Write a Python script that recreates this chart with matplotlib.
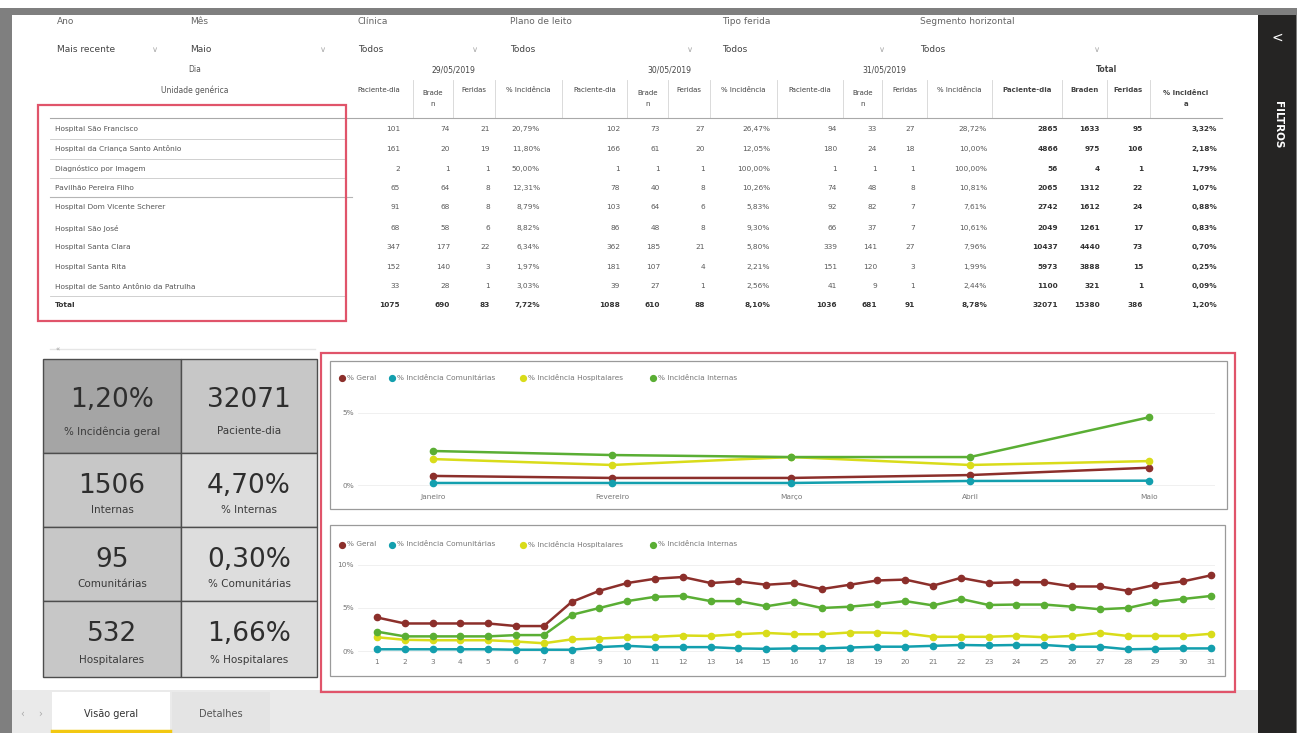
import numpy as np
import matplotlib
matplotlib.use("Agg")
import matplotlib.pyplot as plt
from matplotlib.patches import Rectangle

W, H = 1301, 733

# ---- dados ----
filter_labels = ["Ano", "Mês", "Clínica", "Plano de leito", "Tipo ferida", "Segmento horizontal"]
filter_values = ["Mais recente", "Maio", "Todos", "Todos", "Todos", "Todos"]

unidades = ["Hospital São Francisco", "Hospital da Criança Santo Antônio",
            "Diagnóstico por Imagem", "Pavilhão Pereira Filho",
            "Hospital Dom Vicente Scherer", "Hospital São José",
            "Hospital Santa Clara", "Hospital Santa Rita",
            "Hospital de Santo Antônio da Patrulha", "Total"]
datas = ["29/05/2019", "30/05/2019", "31/05/2019", "Total"]
colunas = ["Paciente-dia", "Brade\nn", "Feridas", "% Incidência"]
colunas_total = ["Paciente-dia", "Braden", "Feridas", "% Incidênci\na"]

dia1 = [["101", "74", "21", "20,79%"], ["161", "20", "19", "11,80%"],
        ["2", "1", "1", "50,00%"], ["65", "64", "8", "12,31%"],
        ["91", "68", "8", "8,79%"], ["68", "58", "6", "8,82%"],
        ["347", "177", "22", "6,34%"], ["152", "140", "3", "1,97%"],
        ["33", "28", "1", "3,03%"], ["1075", "690", "83", "7,72%"]]
dia2 = [["102", "73", "27", "26,47%"], ["166", "61", "20", "12,05%"],
        ["1", "1", "1", "100,00%"], ["78", "40", "8", "10,26%"],
        ["103", "64", "6", "5,83%"], ["86", "48", "8", "9,30%"],
        ["362", "185", "21", "5,80%"], ["181", "107", "4", "2,21%"],
        ["39", "27", "1", "2,56%"], ["1088", "610", "88", "8,10%"]]
dia3 = [["94", "33", "27", "28,72%"], ["180", "24", "18", "10,00%"],
        ["1", "1", "1", "100,00%"], ["74", "48", "8", "10,81%"],
        ["92", "82", "7", "7,61%"], ["66", "37", "7", "10,61%"],
        ["339", "141", "27", "7,96%"], ["151", "120", "3", "1,99%"],
        ["41", "9", "1", "2,44%"], ["1036", "681", "91", "8,78%"]]
total = [["2865", "1633", "95", "3,32%"], ["4866", "975", "106", "2,18%"],
         ["56", "4", "1", "1,79%"], ["2065", "1312", "22", "1,07%"],
         ["2742", "1612", "24", "0,88%"], ["2049", "1261", "17", "0,83%"],
         ["10437", "4440", "73", "0,70%"], ["5973", "3888", "15", "0,25%"],
         ["1100", "321", "1", "0,09%"], ["32071", "15380", "386", "1,20%"]]

kpi_valores = ["1,20%", "32071", "1506", "4,70%", "95", "0,30%", "532", "1,66%"]
kpi_rotulos = ["% Incidência geral", "Paciente-dia", "Internas", "% Internas",
               "Comunitárias", "% Comunitárias", "Hospitalares", "% Hospitalares"]

series = ["% Geral", "% Incidência Comunitárias", "% Incidência Hospitalares", "% Incidência Internas"]
cores = ["#8c2f2b", "#139fae", "#d9dc1a", "#5aae34"]

meses = ["Janeiro", "Fevereiro", "Março", "Abril", "Maio"]
mes_geral = [0.63, 0.49, 0.49, 0.69, 1.20]
mes_comunit = [0.14, 0.14, 0.14, 0.28, 0.30]
mes_hosp = [1.80, 1.39, 1.94, 1.39, 1.66]
mes_intern = [2.36, 2.08, 1.94, 1.94, 4.70]

dias = list(range(1, 32))
dia_geral = [3.9, 3.2, 3.2, 3.2, 3.2, 2.9, 2.9, 5.7, 7.0, 7.9, 8.4, 8.6, 7.9, 8.1, 7.7, 7.9,
             7.2, 7.7, 8.2, 8.3, 7.6, 8.5, 7.9, 8.0, 8.0, 7.5, 7.5, 7.0, 7.7, 8.1, 8.8]
dia_comunit = [0.2, 0.2, 0.2, 0.2, 0.2, 0.15, 0.15, 0.15, 0.45, 0.6, 0.45, 0.45, 0.45, 0.3, 0.25, 0.3,
               0.3, 0.4, 0.5, 0.5, 0.6, 0.7, 0.65, 0.7, 0.7, 0.5, 0.5, 0.2, 0.25, 0.3, 0.3]
dia_hosp = [1.6, 1.3, 1.25, 1.25, 1.25, 1.1, 0.9, 1.35, 1.45, 1.6, 1.65, 1.8, 1.75, 1.95, 2.1, 1.95,
            1.95, 2.15, 2.15, 2.05, 1.65, 1.65, 1.65, 1.75, 1.6, 1.75, 2.1, 1.75, 1.75, 1.75, 2.0]
dia_intern = [2.25, 1.7, 1.7, 1.7, 1.7, 1.85, 1.85, 4.2, 5.0, 5.8, 6.3, 6.4, 5.8, 5.8, 5.2, 5.7,
              5.0, 5.15, 5.45, 5.8, 5.3, 6.05, 5.35, 5.4, 5.4, 5.15, 4.85, 5.0, 5.7, 6.05, 6.4]

# ---- figura / fundo em pixels ----
fig = plt.figure(figsize=(W / 100, H / 100), dpi=100)
bg = fig.add_axes([0, 0, 1, 1])
bg.set_xlim(0, W)
bg.set_ylim(H, 0)
bg.axis("off")


def rect(x0, y0, x1, y1, fc="none", ec="none", lw=1, z=1):
    bg.add_patch(Rectangle((x0, y0), x1 - x0, y1 - y0, facecolor=fc, edgecolor=ec, lw=lw, zorder=z))


def txt(x, y, s, size=5.5, color="#555555", ha="left", va="center", weight="normal", **kw):
    bg.text(x, y, s, fontsize=size, color=color, ha=ha, va=va, weight=weight, zorder=3, **kw)


rect(0, 0, W, H, fc="white", z=0)
rect(0, 8, 1297, H, fc="#7f7f7f", z=0)
rect(12, 15, 1258, 690, fc="white", z=0)
rect(12, 690, 1258, H, fc="#eaeaea", z=0)
rect(1258, 15, 1296, H, fc="#252423", z=0)
txt(1277, 38, "<", size=10, color="white", ha="center")
txt(1278, 125, "FILTROS", size=7.5, color="white", ha="center", weight="bold", rotation=-90)

# filtros (segmentações)
fx = [57, 190, 358, 510, 722, 920]
chev = [155, 323, 475, 690, 882, 1097]
for i in range(len(filter_labels)):
    txt(fx[i], 22, filter_labels[i], size=6.5, color="#666666")
    txt(fx[i], 50, filter_values[i], size=6.5, color="#444444")
    txt(chev[i], 50, "\u2228", size=6, color="#aaaaaa", ha="center")

# tabela (matriz)
bounds = [345, 413, 453, 495, 562, 627, 668, 710, 777, 843, 882, 927, 992, 1062, 1107, 1150, 1222]
val_right = [400, 450, 490, 540, 620, 660, 705, 770, 837, 877, 915, 987, 1058, 1100, 1143, 1217]
row_y = [129, 149, 169, 188, 207, 228, 247, 267, 286, 305]

txt(195, 69, "Dia", ha="center")
txt(195, 90, "Unidade genérica", ha="center")
for g, d in enumerate(datas):
    txt((bounds[4 * g] + bounds[4 * g + 4]) / 2, 70, d, ha="center",
        weight="bold" if g == 3 else "normal", color="#444444")
    nomes = colunas_total if g == 3 else colunas
    for c in range(4):
        k = 4 * g + c
        cx = (bounds[k] + bounds[k + 1]) / 2
        txt(cx, 90, nomes[c], size=5, ha="center", va="top" if "\n" in nomes[c] else "center",
            weight="bold" if g == 3 else "normal", color="#444444", linespacing=1.9)
for b in bounds[1:-1]:
    bg.plot([b, b], [80, 118], color="#d4d4d4", lw=0.6)
bg.plot([50, 1222], [118, 118], color="#a9a9a9", lw=0.8)
for y in [139, 159, 178, 296]:
    bg.plot([50, 345], [y, y], color="#c9c9c9", lw=0.6)
bg.plot([50, 352], [197, 197], color="#b5b5b5", lw=0.8)

grupos = [dia1, dia2, dia3, total]
for r, nome in enumerate(unidades):
    tot = r == len(unidades) - 1
    txt(55, row_y[r], nome, size=5.3, color="#333333" if tot else "#555555",
        weight="bold" if tot else "normal")
    for g, dados in enumerate(grupos):
        for c in range(4):
            k = 4 * g + c
            forte = g == 3 or tot
            txt(val_right[k], row_y[r], dados[r][c], size=5.3, ha="right",
                color="#333333" if forte else "#5a5a5a",
                weight="bold" if forte else "normal")

rect(38, 105, 346, 321, ec="#e0546a", lw=1.6, z=5)

# cartões
kx = [43, 181, 317]
ky = [359, 453, 527, 601, 677]
bg.plot([50, 315], [349, 349], color="#e6e6e6", lw=1)
txt(55, 349, "«", size=5, color="#999999")
for r in range(4):
    for c in range(2):
        if r == 0 and c == 0:
            fc = "#a5a5a5"
        elif c == 0 or r == 0:
            fc = "#c7c7c7"
        else:
            fc = "#dddddd"
        rect(kx[c], ky[r], kx[c + 1], ky[r + 1], fc=fc, ec="#4d4d4d", lw=1, z=2)
        h = ky[r + 1] - ky[r]
        cx = (kx[c] + kx[c + 1]) / 2
        i = 2 * r + c
        txt(cx, ky[r] + 0.44 * h, kpi_valores[i], size=19, color="#2e2e2e", ha="center")
        txt(cx, ky[r] + 0.77 * h, kpi_rotulos[i], size=7.5, color="#3a3a3a", ha="center")

# molduras dos gráficos
rect(321, 353, 1235, 692, ec="#e0546a", lw=1.6, z=5)
rect(330, 361, 1227, 509, ec="#9a9a9a", lw=0.9, z=2)
rect(330, 525, 1225, 676, ec="#9a9a9a", lw=0.9, z=2)

leg_x = [342, 392, 523, 653]
for ly in [378, 545]:
    for i in range(4):
        bg.plot(leg_x[i], ly, "o", ms=4.2, color=cores[i], zorder=3)
        txt(leg_x[i] + 5, ly - 0.5, series[i], size=5.3, color="#777777")


def px_axes(x0, y0, x1, y1):
    return fig.add_axes([x0 / W, 1 - y1 / H, (x1 - x0) / W, (y1 - y0) / H])


def estilo(ax):
    for s in ax.spines.values():
        s.set_visible(False)
    ax.patch.set_alpha(0)
    ax.tick_params(length=0, labelsize=5.3, labelcolor="#777777", pad=3)
    ax.grid(axis="y", color="#eeeeee", lw=0.6)
    ax.set_axisbelow(True)


# por mês
ax1 = px_axes(358, 400, 1215, 490)
estilo(ax1)
xm = np.arange(len(meses))
for vals, cor in zip([mes_geral, mes_comunit, mes_hosp, mes_intern], cores):
    ax1.plot(xm, vals, "-o", color=cor, lw=1.8, ms=4.5, clip_on=False)
ax1.set_xlim(-0.419, 4.369)
ax1.set_ylim(-0.347, 5.9)
ax1.set_xticks(xm)
ax1.set_xticklabels(meses)
ax1.set_yticks([0, 5])
ax1.set_yticklabels(["0%", "5%"])

# por dia
ax2 = px_axes(358, 555, 1215, 655)
estilo(ax2)
for vals, cor in zip([dia_geral, dia_comunit, dia_hosp, dia_intern], cores):
    ax2.plot(dias, vals, "-o", color=cor, lw=1.8, ms=4.5, clip_on=False)
ax2.set_xlim(0.317, 31.14)
ax2.set_ylim(-0.465, 11.16)
ax2.set_xticks(dias)
ax2.set_yticks([0, 5, 10])
ax2.set_yticklabels(["0%", "5%", "10%"])

# abas
rect(52, 692, 170, H, fc="white", z=1)
bg.plot([52, 170], [731, 731], color="#f2c811", lw=2.5, zorder=2)
rect(172, 692, 270, H, fc="#e4e4e4", z=1)
txt(111, 714, "Visão geral", size=7, color="#333333", ha="center")
txt(221, 714, "Detalhes", size=7, color="#555555", ha="center")
txt(22, 714, "‹", size=7, color="#aaaaaa", ha="center")
txt(40, 714, "›", size=7, color="#aaaaaa", ha="center")

fig.savefig("out.png", dpi=100)
